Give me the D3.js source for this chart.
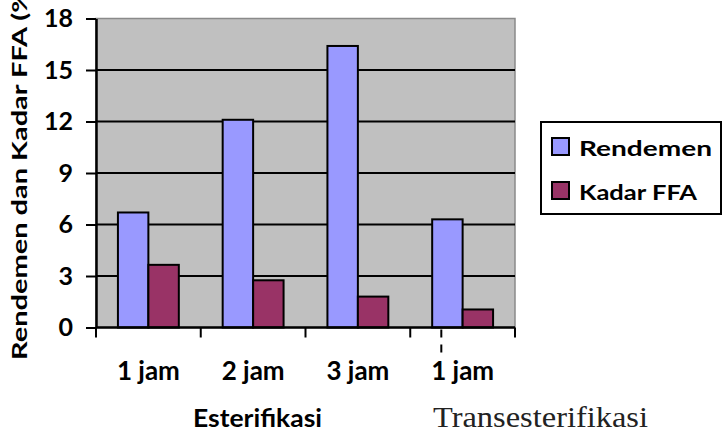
<!DOCTYPE html>
<html>
<head>
<meta charset="utf-8">
<script src="https://cdn.jsdelivr.net/npm/d3@7"></script>
<style>
html,body{margin:0;padding:0;background:#fff;}
svg{display:block;}
</style>
</head>
<body>
<svg id="chart" width="724" height="443"></svg>
<script>
const categories = ["1 jam", "2 jam", "3 jam", "1 jam "];
const categoryLabels = ["1 jam", "2 jam", "3 jam", "1 jam"];
const seriesNames = ["Rendemen", "Kadar FFA"];
const rendemen = [6.7, 12.1, 16.4, 6.3];
const kadarFFA = [3.65, 2.75, 1.8, 1.05];
const yTicks = [0, 3, 6, 9, 12, 15, 18];
const colors = ["#9999ff", "#993366"];
const groupTitles = ["Esterifikasi", "Transesterifikasi"];
const yTitle = "Rendemen dan Kadar FFA (%)";

const svg = d3.select("#chart");
const plot = {left: 96, right: 515, top: 18.5, bottom: 327.5};

const x0 = d3.scaleBand().domain(categories).range([plot.left, plot.right]).padding(0);
const x1 = d3.scaleBand().domain(seriesNames).range([0, x0.bandwidth()]).paddingInner(0).paddingOuter(0.72);
const y = d3.scaleLinear().domain([0, 18]).range([plot.bottom, plot.top]);

const boldFont = "Lato, 'Open Sans', sans-serif";

// plot background
svg.append("rect")
  .attr("x", plot.left).attr("y", plot.top)
  .attr("width", plot.right - plot.left).attr("height", plot.bottom - plot.top)
  .attr("fill", "#c0c0c0").attr("stroke", "#8a8a8a").attr("stroke-width", 1.5);

// gridlines
svg.append("g").selectAll("line")
  .data(yTicks.filter(d => d > 0 && d < 18))
  .join("line")
  .attr("x1", plot.left).attr("x2", plot.right)
  .attr("y1", d => y(d)).attr("y2", d => y(d))
  .attr("stroke", "#000").attr("stroke-width", 2);

// bars
const data = categories.map((c, i) => ({cat: c, values: [rendemen[i], kadarFFA[i]]}));
svg.append("g").selectAll("g")
  .data(data)
  .join("g")
  .attr("transform", d => `translate(${x0(d.cat)},0)`)
  .selectAll("rect")
  .data(d => d.values.map((v, j) => ({name: seriesNames[j], value: v, color: colors[j]})))
  .join("rect")
  .attr("x", d => x1(d.name))
  .attr("width", x1.bandwidth())
  .attr("y", d => y(d.value))
  .attr("height", d => y(0) - y(d.value))
  .attr("fill", d => d.color)
  .attr("stroke", "#000").attr("stroke-width", 2);

// y axis
const yAxis = d3.axisLeft(y).tickValues(yTicks).tickSize(10).tickSizeOuter(0).tickPadding(13);
const gy = svg.append("g").attr("transform", `translate(${plot.left},0)`).call(yAxis);
gy.select(".domain").attr("stroke", "#000").attr("stroke-width", 2.5);
gy.selectAll(".tick line").attr("stroke", "#000").attr("stroke-width", 2);
gy.selectAll(".tick text")
  .attr("font-family", boldFont).attr("font-weight", "bold").attr("font-size", 25)
  .attr("fill", "#000");

// x axis line
svg.append("line")
  .attr("x1", plot.left).attr("x2", plot.right)
  .attr("y1", y(0)).attr("y2", y(0))
  .attr("stroke", "#000").attr("stroke-width", 2.5);

// x ticks at category boundaries
const boundaries = categories.map(c => x0(c)).concat([x0(categories[categories.length - 1]) + x0.bandwidth()]);
svg.append("g").selectAll("line")
  .data(boundaries)
  .join("line")
  .attr("x1", d => d).attr("x2", d => d)
  .attr("y1", y(0)).attr("y2", y(0) + 10)
  .attr("stroke", "#000").attr("stroke-width", 2);

// x labels
svg.append("g").selectAll("text")
  .data(categories)
  .join("text")
  .attr("x", d => x0(d) + x0.bandwidth() / 2)
  .attr("y", 380)
  .attr("text-anchor", "middle")
  .attr("font-family", boldFont).attr("font-weight", "bold").attr("font-size", 26)
  .attr("fill", "#000")
  .text((d, i) => categoryLabels[i]);

// dashed separator
const lastCat = categories[categories.length - 1];
const sepX = x0(lastCat) + x1(seriesNames[0]) + x1.bandwidth() * 0.3;
svg.append("line")
  .attr("x1", sepX).attr("x2", sepX)
  .attr("y1", y(0) + 2).attr("y2", y(0) + 30)
  .attr("stroke", "#000").attr("stroke-width", 2)
  .attr("stroke-dasharray", "8,7");

// group titles
svg.append("text")
  .attr("x", 193).attr("y", 427)
  .attr("font-family", boldFont).attr("font-weight", "bold").attr("font-size", 24)
  .attr("textLength", 129).attr("lengthAdjust", "spacingAndGlyphs")
  .attr("fill", "#000")
  .text(groupTitles[0]);
svg.append("text")
  .attr("x", 433).attr("y", 427)
  .attr("font-family", "'Liberation Serif', 'DejaVu Serif', serif").attr("font-size", 30)
  .attr("textLength", 215).attr("lengthAdjust", "spacingAndGlyphs")
  .attr("fill", "#222")
  .text(groupTitles[1]);

// y title
svg.append("text")
  .attr("transform", "translate(27,360) rotate(-90)")
  .attr("x", 0).attr("y", 0)
  .attr("font-family", boldFont).attr("font-weight", "bold").attr("font-size", 20)
  .attr("textLength", 379).attr("lengthAdjust", "spacingAndGlyphs")
  .attr("fill", "#000")
  .text(yTitle);

// legend
const legend = svg.append("g");
legend.append("rect")
  .attr("x", 541).attr("y", 122).attr("width", 180).attr("height", 92)
  .attr("fill", "#fff").attr("stroke", "#000").attr("stroke-width", 2);
const legendLengths = [133, 118];
const li = legend.selectAll("g.item")
  .data(seriesNames)
  .join("g").attr("class", "item")
  .attr("transform", (d, i) => `translate(552,${138 + i * 44})`);
li.append("rect")
  .attr("width", 17).attr("height", 17)
  .attr("fill", (d, i) => colors[i])
  .attr("stroke", "#000").attr("stroke-width", 2);
li.append("text")
  .attr("x", 27).attr("y", 18)
  .attr("font-family", boldFont).attr("font-weight", "bold").attr("font-size", 21)
  .attr("textLength", (d, i) => legendLengths[i]).attr("lengthAdjust", "spacingAndGlyphs")
  .attr("fill", "#000")
  .text(d => d);
</script>
</body>
</html>
